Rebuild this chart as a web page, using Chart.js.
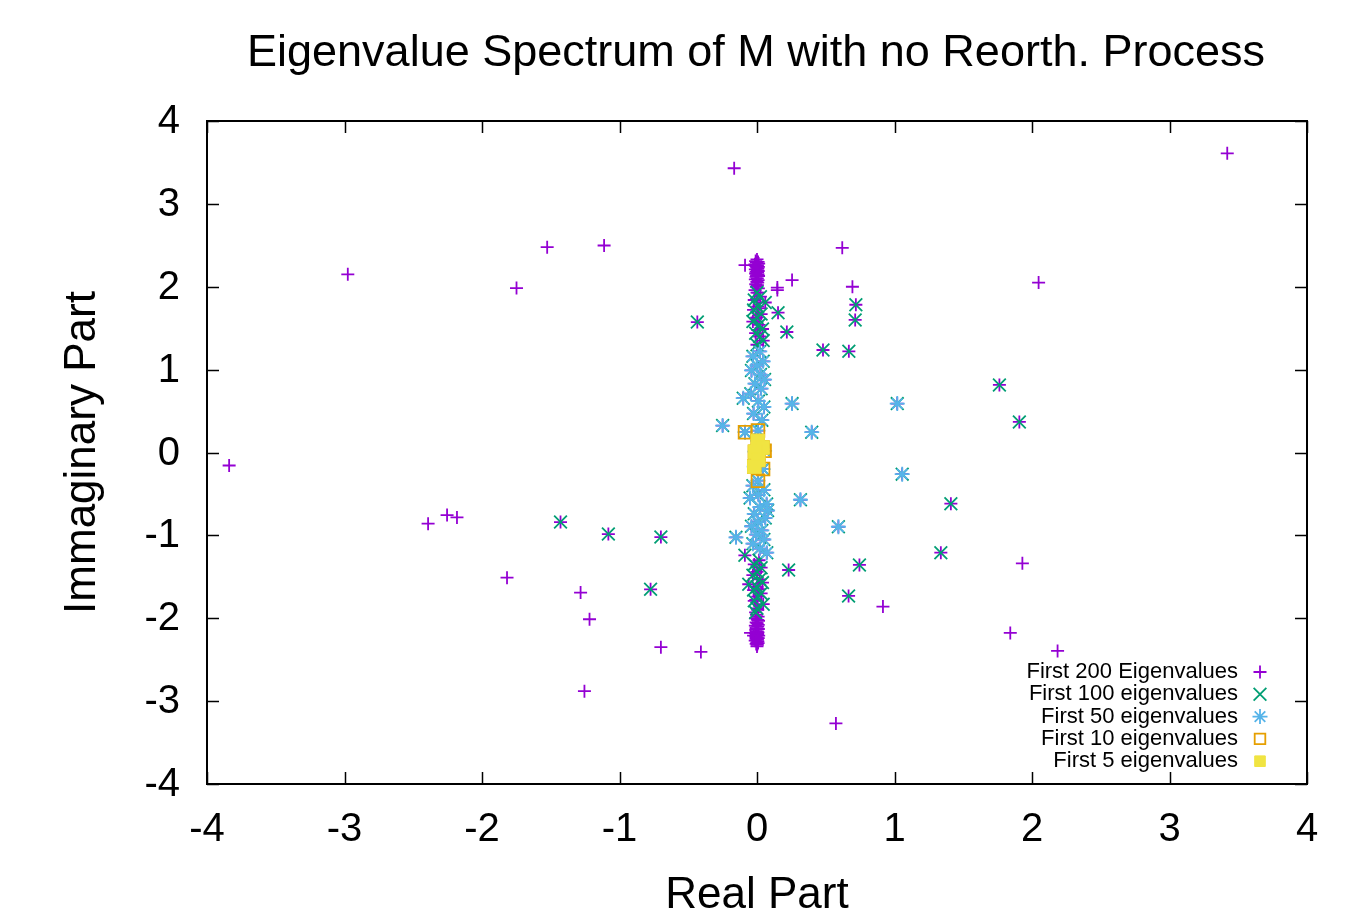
<!DOCTYPE html>
<html>
<head>
<meta charset="utf-8">
<title>Eigenvalue Spectrum</title>
<script src="https://cdn.jsdelivr.net/npm/chart.js@4.4.1/dist/chart.umd.min.js"></script>
<style>
  html, body { margin: 0; padding: 0; background: #ffffff; }
  #wrap { width: 1370px; height: 915px; }
</style>
</head>
<body>
<div id="wrap"><canvas id="chart" width="1370" height="915"></canvas></div>
<script>
// axis ticks
const xTicks = [-4, -3, -2, -1, 0, 1, 2, 3, 4];
const yTicks = [-4, -3, -2, -1, 0, 1, 2, 3, 4];

const chartTitle = 'Eigenvalue Spectrum of M with no Reorth. Process';
const xTitle = 'Real Part';
const yTitle = 'Immaginary Part';

// eigenvalues as [real, imag], split by the first subset they belong to
const eig5 = [
  [0.005, 0.14], [0.040, 0.06], [-0.015, 0.01], [0.010, -0.09], [-0.020, -0.17]
];
const eig10only = [
  [-0.087, 0.245], [0.007, 0.265], [0.044, -0.20], [0.007, -0.34], [0.055, 0.02]
];
const eig50only = [
  // off-axis
  [-0.250, 0.325], [-0.100, 0.655], [0.255, 0.59], [1.020, 0.59], [0.398, 0.245],
  [1.056, -0.261], [0.316, -0.57], [0.592, -0.896], [-0.153, -1.024], [0.071, -1.209],
  [0.077, -0.70],
  // near the imaginary axis, upper
  [0.020, 1.22], [-0.030, 1.16], [0.045, 1.10], [0.000, 1.05], [-0.040, 0.99],
  [0.025, 0.94], [0.055, 0.88], [-0.015, 0.83], [0.030, 0.77], [-0.045, 0.71],
  [0.010, 0.62], [0.050, 0.55], [-0.025, 0.47], [0.035, 0.39],
  // near the imaginary axis, lower
  [-0.030, -0.40], [0.050, -0.45], [0.010, -0.51], [-0.050, -0.55], [0.070, -0.62],
  [0.020, -0.66], [-0.020, -0.74], [0.060, -0.79], [0.005, -0.84], [-0.040, -0.89],
  [0.035, -0.94], [-0.005, -0.99], [0.050, -1.05], [-0.030, -1.10], [0.020, -1.16]
];
const eig100only = [
  [-0.434, 1.574], [-1.429, -0.839], [-1.081, -0.984], [-0.699, -1.020], [-0.774, -1.651],
  [0.719, 1.783], [0.714, 1.600], [0.153, 1.687], [0.217, 1.454], [0.480, 1.237],
  [0.668, 1.221], [1.763, 0.815], [1.908, 0.369], [1.410, -0.618], [1.337, -1.209],
  [0.745, -1.357], [0.230, -1.418], [0.666, -1.731], [-0.088, -1.241], [-0.060, -1.590],
  [0.000, 1.93], [0.025, 1.88], [-0.020, 1.84], [0.060, 1.81], [0.005, 1.76],
  [-0.025, 1.72], [0.030, 1.67], [0.000, 1.63], [-0.030, 1.58], [0.015, 1.54],
  [0.040, 1.49], [-0.010, 1.44], [0.020, 1.40], [0.045, 1.35], [0.000, 1.30],
  [0.015, -1.30], [-0.020, -1.35], [0.030, -1.39], [0.000, -1.44], [-0.030, -1.48],
  [0.020, -1.53], [0.040, -1.57], [0.000, -1.62], [-0.025, -1.66], [0.030, -1.70],
  [0.005, -1.74], [-0.020, -1.79], [0.045, -1.83], [0.000, -1.88], [-0.010, -1.93]
];
const eig200only = [
  [-0.166, 3.43], [-2.976, 2.15], [-1.526, 2.478], [-1.112, 2.498], [-1.749, 1.984],
  [-0.087, 2.26], [-3.839, -0.157], [-2.392, -0.859], [-2.254, -0.755], [-2.182, -0.783],
  [-1.818, -1.51], [-1.283, -1.69], [-1.218, -2.012], [-0.699, -2.349], [-0.408, -2.406],
  [-1.255, -2.88], [-0.047, -2.177], [3.420, 3.61], [0.620, 2.47], [0.255, 2.08],
  [0.148, 1.99], [0.148, 1.96], [0.694, 2.00], [2.048, 2.05], [1.930, -1.337],
  [0.916, -1.859], [1.842, -2.177], [2.186, -2.394], [0.574, -3.269],
  [0.000, 2.33], [-0.010, 2.31], [0.008, 2.30], [-0.004, 2.29], [0.012, 2.28],
  [-0.015, 2.27], [0.003, 2.26], [-0.008, 2.25], [0.010, 2.24], [-0.002, 2.23],
  [0.006, 2.22], [-0.012, 2.21], [0.001, 2.20], [0.009, 2.19], [-0.006, 2.18],
  [0.004, 2.17], [-0.010, 2.16], [0.007, 2.15], [-0.003, 2.14], [0.011, 2.13],
  [-0.007, 2.12], [0.002, 2.10], [-0.012, 2.09], [0.008, 2.08], [-0.001, 2.06],
  [0.005, 2.05], [-0.009, 2.03], [0.003, 2.02], [-0.004, 2.00], [0.010, 1.98],
  [-0.014, 1.96], [0.006, 1.93], [-0.002, 1.85], [0.012, 1.74], [-0.008, 1.62],
  [0.004, 1.48],
  [-0.004, -1.96], [0.008, -1.98], [-0.010, -2.00], [0.003, -2.02], [0.011, -2.03],
  [-0.006, -2.05], [0.001, -2.06], [0.009, -2.08], [-0.012, -2.09], [0.005, -2.10],
  [-0.003, -2.12], [0.010, -2.13], [-0.008, -2.14], [0.002, -2.16], [0.007, -2.17],
  [-0.011, -2.18], [0.004, -2.19], [-0.002, -2.20], [0.012, -2.21], [-0.007, -2.22],
  [0.001, -2.23], [0.009, -2.24], [-0.005, -2.25], [0.003, -2.26], [-0.013, -2.27],
  [0.006, -2.28], [-0.001, -2.29], [0.008, -2.30], [-0.006, -2.31], [0.002, -2.32],
  [0.000, -2.34], [-0.025, -2.21], [0.005, -1.90], [-0.009, -1.78], [0.010, -1.65]
];

const toPts = arr => arr.map(p => ({ x: p[0], y: p[1] }));

const first5 = eig5;
const first10 = eig5.concat(eig10only);
const first50 = first10.concat(eig50only);
const first100 = first50.concat(eig100only);
const first200 = first100.concat(eig200only);

const FONT = '"Liberation Sans", Arial, Helvetica, sans-serif';

// series look (gnuplot default colours)
const series = [
  { label: 'First 200 Eigenvalues', data: first200, style: 'cross', color: '#9400d3', fill: 'rgba(0,0,0,0)', radius: 6.5, width: 1.8 },
  { label: 'First 100 eigenvalues', data: first100, style: 'crossRot', color: '#009e73', fill: 'rgba(0,0,0,0)', radius: 9, width: 1.8 },
  { label: 'First 50 eigenvalues', data: first50, style: 'star', color: '#56b4e9', fill: 'rgba(0,0,0,0)', radius: 7.5, width: 1.8 },
  { label: 'First 10 eigenvalues', data: first10, style: 'rect', color: '#e69f00', fill: 'rgba(0,0,0,0)', radius: 9, width: 1.8 },
  { label: 'First 5 eigenvalues', data: first5, style: 'rect', color: '#f0e442', fill: '#f0e442', radius: 9.5, width: 1 }
];

// frame, inward ticks on all sides, tick labels, titles, legend
const gnuplotDecor = {
  id: 'gnuplotDecor',
  afterDatasetsDraw(chart) {
    const ctx = chart.ctx;
    const a = chart.chartArea;
    const xs = chart.scales.x;
    const ys = chart.scales.y;
    const tl = 12;

    ctx.save();
    ctx.strokeStyle = '#000';
    ctx.lineWidth = 1.5;
    ctx.beginPath();
    xTicks.forEach(v => {
      const px = Math.round(xs.getPixelForValue(v)) + 0.5;
      ctx.moveTo(px, a.bottom); ctx.lineTo(px, a.bottom - tl);
      ctx.moveTo(px, a.top); ctx.lineTo(px, a.top + tl);
    });
    yTicks.forEach(v => {
      const py = Math.round(ys.getPixelForValue(v)) + 0.5;
      ctx.moveTo(a.left, py); ctx.lineTo(a.left + tl, py);
      ctx.moveTo(a.right, py); ctx.lineTo(a.right - tl, py);
    });
    ctx.stroke();

    ctx.lineWidth = 2;
    ctx.strokeRect(a.left, a.top, a.right - a.left, a.bottom - a.top);

    ctx.fillStyle = '#000';
    ctx.font = '40px ' + FONT;
    ctx.textAlign = 'center';
    ctx.textBaseline = 'middle';
    xTicks.forEach(v => {
      ctx.fillText(String(v), xs.getPixelForValue(v), a.bottom + 46);
    });
    ctx.textAlign = 'right';
    yTicks.forEach(v => {
      ctx.fillText(String(v), a.left - 27, ys.getPixelForValue(v) + 1);
    });

    ctx.font = '45px ' + FONT;
    ctx.textAlign = 'center';
    ctx.fillText(chartTitle, 756, 54);
    ctx.font = '44px ' + FONT;
    ctx.fillText(xTitle, (a.left + a.right) / 2, 896);
    ctx.save();
    ctx.translate(83, (a.top + a.bottom) / 2);
    ctx.rotate(-Math.PI / 2);
    ctx.fillText(yTitle, 0, 0);
    ctx.restore();

    // legend: text right-aligned, sample to the right
    ctx.font = '22px ' + FONT;
    ctx.textAlign = 'right';
    series.forEach((s, i) => {
      const y = 672 + i * 22.3;
      ctx.fillStyle = '#000';
      ctx.fillText(s.label, 1238, y);
      ctx.strokeStyle = s.color;
      ctx.fillStyle = s.fill;
      ctx.lineWidth = s.width;
      Chart.helpers.drawPoint(ctx, {
        pointStyle: s.style,
        radius: s.style === 'rect' ? 7.5 : s.radius,
        rotation: 0,
        borderWidth: s.width
      }, 1260, y);
    });
    ctx.restore();
  }
};

new Chart(document.getElementById('chart'), {
  type: 'scatter',
  data: {
    datasets: series.map((s, i) => ({
      label: s.label,
      data: toPts(s.data),
      order: series.length - i,
      pointStyle: s.style,
      pointRadius: s.radius,
      pointHoverRadius: s.radius,
      pointBorderWidth: s.width,
      pointBorderColor: s.color,
      pointBackgroundColor: s.fill,
      borderColor: s.color,
      backgroundColor: s.fill,
      showLine: false
    }))
  },
  options: {
    responsive: false,
    animation: false,
    devicePixelRatio: 1,
    layout: { padding: { left: 207, right: 63, top: 121, bottom: 131 } },
    scales: {
      x: { type: 'linear', min: -4, max: 4, display: false },
      y: { type: 'linear', min: -4, max: 4, display: false }
    },
    plugins: {
      legend: { display: false },
      tooltip: { enabled: false }
    }
  },
  plugins: [gnuplotDecor]
});
</script>
</body>
</html>
